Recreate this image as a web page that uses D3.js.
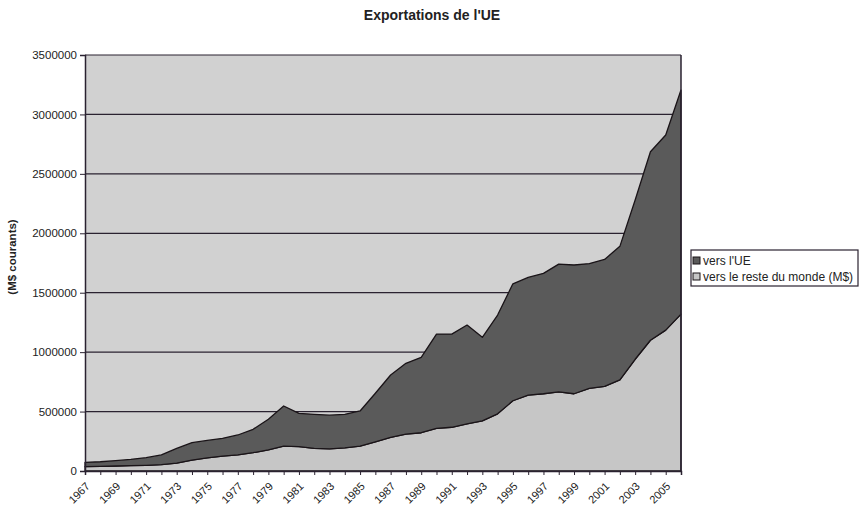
<!DOCTYPE html>
<html>
<head>
<meta charset="utf-8">
<script src="https://cdn.jsdelivr.net/npm/d3@7"></script>
<style>
  body { margin: 0; background: #fff; }
  svg { display: block; font-family: "Liberation Sans", Arial, sans-serif; }
</style>
</head>
<body>
<svg id="chart" width="860" height="510"></svg>
<script>
const years = d3.range(1967, 2007);
const tickYears = [1967,1969,1971,1973,1975,1977,1979,1981,1983,1985,1987,1989,1991,1993,1995,1997,1999,2001,2003,2005];
const yTicks = [0,500000,1000000,1500000,2000000,2500000,3000000,3500000];
const seriesNames = ["vers l'UE", "vers le reste du monde (M$)"];
// bottom layer
const versResteDuMonde = [36000,39000,42000,45000,48000,53000,67000,92000,110000,126000,
  135000,154000,177000,210000,205000,191000,186000,195000,210000,246000,
  283000,311000,322000,359000,368000,396000,422000,481000,591000,639000,
  650000,665000,650000,695000,712000,766000,940000,1100000,1185000,1320000];
// top layer
const versUE = [37000,39000,45000,53000,64000,82000,123000,146000,147000,149000,
  168000,197000,258000,337000,280000,286000,284000,282000,295000,408000,
  525000,595000,634000,793000,784000,832000,703000,831000,984000,990000,
  1013000,1076000,1083000,1050000,1068000,1124000,1340000,1586000,1642000,1885000];

const rows = years.map((y, i) => ({year: y, reste: versResteDuMonde[i], ue: versUE[i]}));

const svg = d3.select("#chart");
const m = {left: 85, top: 55, right: 179, bottom: 39};
const W = 860, H = 510;
const x = d3.scaleLinear().domain([1967, 2006]).range([m.left, W - m.right]);
const y = d3.scaleLinear().domain([0, 3500000]).range([H - m.bottom, m.top]);

// plot background
svg.append("rect").attr("x", x(1967)).attr("y", y(3500000))
  .attr("width", x(2006) - x(1967)).attr("height", y(0) - y(3500000))
  .attr("fill", "#d1d1d1");

// gridlines
svg.append("g").selectAll("line").data(yTicks.filter(d => d > 0)).join("line")
  .attr("x1", x(1967)).attr("x2", x(2006))
  .attr("y1", d => y(d)).attr("y2", d => y(d))
  .attr("stroke", "#2a2230").attr("stroke-width", 1.2);

const stack = d3.stack().keys(["reste", "ue"]);
const layers = stack(rows);
const area = d3.area().x(d => x(d.data.year)).y0(d => y(d[0])).y1(d => y(d[1]));
const fills = ["#c6c6c6", "#5a5a5a"];
svg.append("g").selectAll("path").data(layers).join("path")
  .attr("d", area)
  .attr("fill", (d, i) => fills[i])
  .attr("stroke", "#1a1418").attr("stroke-width", 1.3).attr("stroke-linejoin", "round");

// right border
svg.append("line").attr("x1", x(2006)).attr("x2", x(2006)).attr("y1", y(3500000)).attr("y2", y(0))
  .attr("stroke", "#2a2230").attr("stroke-width", 1.5);

// y axis
const yAxis = d3.axisLeft(y).tickValues(yTicks).tickFormat(d3.format("d")).tickSize(5).tickPadding(3);
const gy = svg.append("g").attr("transform", `translate(${x(1967)},0)`).call(yAxis);
gy.select(".domain").attr("stroke", "#2a2230").attr("stroke-width", 1.5);
gy.selectAll(".tick line").attr("stroke", "#2a2230");
gy.selectAll("text").attr("font-size", 11.5).attr("fill", "#222").attr("font-family", "Liberation Sans, Arial, sans-serif");

// x axis
const xAxis = d3.axisBottom(x).tickValues(years).tickFormat(d => tickYears.includes(d) ? d : "").tickSize(4).tickPadding(2);
const gx = svg.append("g").attr("transform", `translate(0,${y(0)})`).call(xAxis);
gx.select(".domain").attr("stroke", "#2a2230").attr("stroke-width", 1.5);
gx.selectAll(".tick line").attr("stroke", "#2a2230");
gx.selectAll("text").attr("font-size", 11).attr("fill", "#222")
  .attr("font-family", "Liberation Sans, Arial, sans-serif")
  .attr("text-anchor", "end").attr("dy", "0.35em")
  .attr("transform", "translate(-2,9) rotate(-45)");

// title
svg.append("text").attr("x", 432).attr("y", 20).attr("text-anchor", "middle")
  .attr("font-size", 14).attr("font-weight", "bold").attr("fill", "#222")
  .text("Exportations de l'UE");

// y label
svg.append("text").attr("transform", `translate(16,257) rotate(-90)`).attr("text-anchor", "middle")
  .attr("font-size", 11.5).attr("font-weight", "bold").attr("fill", "#222")
  .text("(M$ courants)");

// legend
const lg = svg.append("g");
lg.append("rect").attr("x", 691).attr("y", 250).attr("width", 167).attr("height", 36)
  .attr("fill", "#fff").attr("stroke", "#2a2230").attr("stroke-width", 1.2);
const legendFills = ["#5a5a5a", "#c6c6c6"];
seriesNames.forEach((n, i) => {
  const yy = 265 + i * 16;
  lg.append("rect").attr("x", 693).attr("y", yy - 8).attr("width", 7).attr("height", 7)
    .attr("fill", legendFills[i]).attr("stroke", "#1a1418").attr("stroke-width", 1);
  lg.append("text").attr("x", 703).attr("y", yy).attr("font-size", 12).attr("fill", "#222").text(n);
});
</script>
</body>
</html>
